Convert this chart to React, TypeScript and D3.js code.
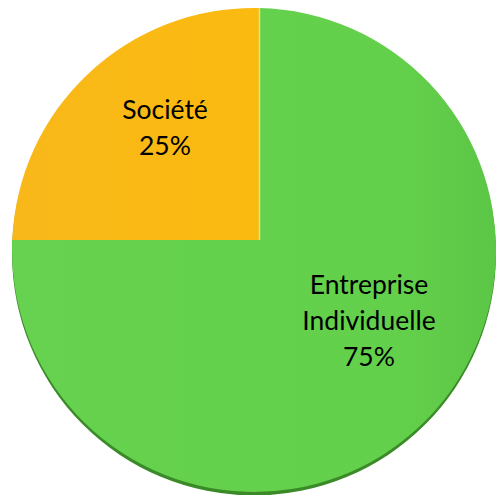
import React from "react";
import * as d3 from "d3";

const categories = ["Entreprise Individuelle", "Société"];
const values = [75, 25];
const labelLines = [["Entreprise", "Individuelle", "75%"], ["Société", "25%"]];
const colors = ["#64D04C", "#FBBA13"];

const W = 499;
const H = 495;
const CX = 254;
const CY = 250;
const R = 242;
const AX = 259;
const AY = 240;

function boundaryPoint(angle: number): [number, number] {
  const dx = Math.sin(angle);
  const dy = -Math.cos(angle);
  const ox = AX - CX;
  const oy = AY - CY;
  const b = ox * dx + oy * dy;
  const c = ox * ox + oy * oy - R * R;
  const t = -b + Math.sqrt(b * b - c);
  return [AX + t * dx, AY + t * dy];
}

export default function App() {
  const pie = d3.pie<number>().sort(null).startAngle(0).endAngle(2 * Math.PI);
  const arcs = pie(values);
  const labelPos: [number, number][] = [
    [369, 294],
    [165, 119],
  ];

  const slicePath = (a: d3.PieArcDatum<number>) => {
    const p0 = boundaryPoint(a.startAngle);
    const p1 = boundaryPoint(a.endAngle);
    const ang0 = Math.atan2(p0[1] - CY, p0[0] - CX);
    const ang1 = Math.atan2(p1[1] - CY, p1[0] - CX);
    let e = ang1;
    while (e <= ang0) e += 2 * Math.PI;
    const p = d3.path();
    p.moveTo(AX, AY);
    p.lineTo(p0[0], p0[1]);
    p.arc(CX, CY, R, ang0, e, false);
    p.closePath();
    return p.toString();
  };

  return (
    <svg width={W} height={H} style={{ position: "absolute", left: 0, top: 0 }}>
      <defs>
        <linearGradient id="gGreen" x1="0" y1="0" x2="1" y2="0">
          <stop offset="0" stopColor="#66D24F" />
          <stop offset="0.8" stopColor="#63D04B" />
          <stop offset="1" stopColor="#5CC646" />
        </linearGradient>
        <linearGradient id="gOrange" x1="0" y1="0" x2="1" y2="0">
          <stop offset="0" stopColor="#F8B81A" />
          <stop offset="1" stopColor="#FBBA0F" />
        </linearGradient>
      </defs>
      <rect width={W} height={H} fill="#fff" />
      <circle cx={CX} cy={CY + 3.5} r={R} fill="#3A8A28" />
      {arcs.map((a, i) => (
        <path
          key={categories[i]}
          d={slicePath(a)}
          fill={i === 0 ? "url(#gGreen)" : "url(#gOrange)"}
        />
      ))}
      <line
        x1={AX + 0.5}
        y1={AY}
        x2={AX + 0.5}
        y2={boundaryPoint(0)[1]}
        stroke="#C6EE8A"
        strokeWidth={1.5}
      />
      {labelLines.map((lines, i) => (
        <text
          key={categories[i]}
          fontFamily="Lato, 'Open Sans', sans-serif"
          fontSize={26.5}
          fill="#000"
          textAnchor="middle"
        >
          {lines.map((l, j) => (
            <tspan key={j} x={labelPos[i][0]} y={labelPos[i][1] + j * 36}>
              {l}
            </tspan>
          ))}
        </text>
      ))}
    </svg>
  );
}
